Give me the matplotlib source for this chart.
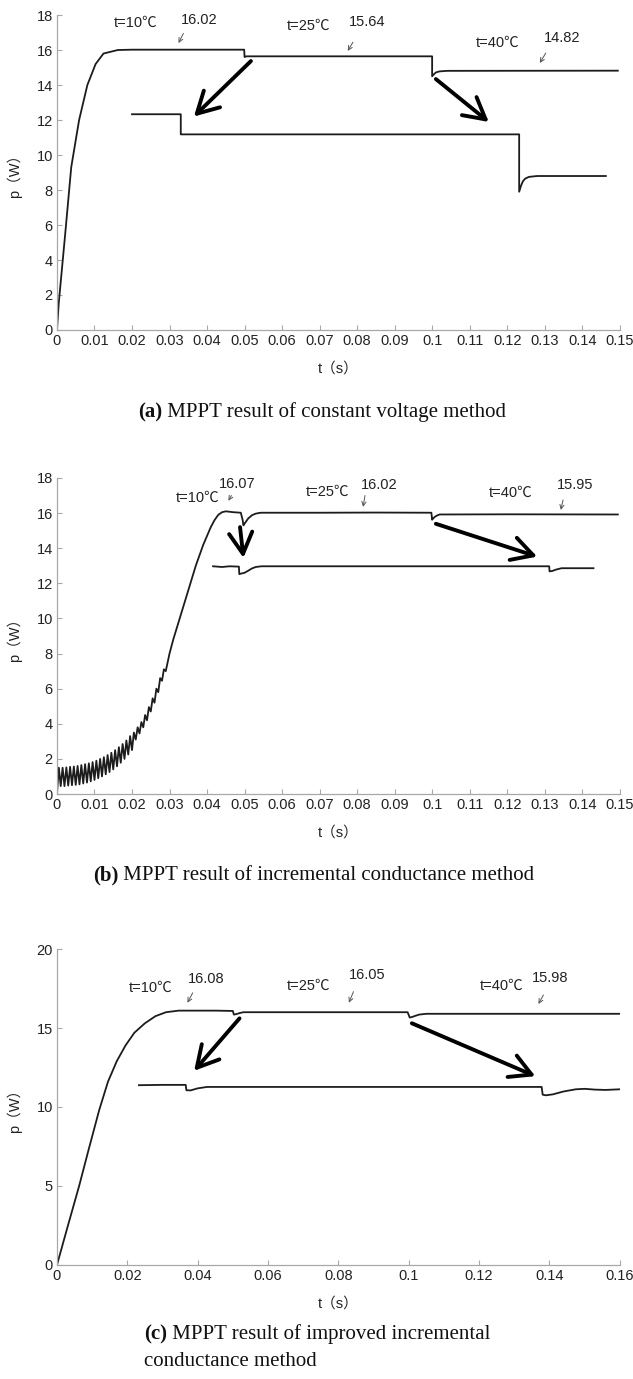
import matplotlib
matplotlib.use("Agg")
import matplotlib.pyplot as plt

# ---------------- data ----------------
# Panel (a): constant voltage method
a_up_t = [0, 0.0005, 0.0022, 0.0038, 0.0059, 0.0081, 0.0103, 0.0124, 0.0162, 0.02,
          0.0499, 0.0500, 0.0502, 0.0506, 0.1, 0.1, 0.1005, 0.101, 0.102, 0.104, 0.1495]
a_up_p = [0, 1.6, 5.5, 9.3, 12.0, 14.0, 15.2, 15.8, 16.0, 16.02,
          16.02, 15.60, 15.62, 15.64, 15.64, 14.50, 14.62, 14.72, 14.78, 14.81, 14.82]
a_lo_t = [0.02, 0.033, 0.033, 0.1232, 0.1232, 0.1237, 0.1242, 0.1248, 0.1258, 0.128, 0.1463]
a_lo_p = [12.33, 12.33, 11.18, 11.18, 7.90, 8.25, 8.50, 8.65, 8.75, 8.80, 8.80]

# Panel (b): incremental conductance method
b_up_t = [0.0, 0.0005, 0.001, 0.0015, 0.002, 0.0025, 0.003, 0.0035, 0.004, 0.0045,
          0.005, 0.0055, 0.006, 0.0065, 0.007, 0.0075, 0.008, 0.0085, 0.009, 0.0095,
          0.010, 0.0105, 0.011, 0.0115, 0.012, 0.0125, 0.013, 0.0135, 0.014, 0.0145,
          0.015, 0.0155, 0.016, 0.0165, 0.017, 0.0175, 0.018, 0.0185, 0.019, 0.0195,
          0.020, 0.0205, 0.021, 0.0215, 0.022, 0.0225, 0.023, 0.0235, 0.024, 0.0245,
          0.025, 0.0255, 0.026, 0.0265, 0.027, 0.0275, 0.028, 0.0285, 0.029, 0.030,
          0.031, 0.032, 0.033, 0.034, 0.035, 0.036, 0.037, 0.038, 0.039, 0.040,
          0.041, 0.042, 0.043, 0.044, 0.045, 0.047, 0.049, 0.0495, 0.0497, 0.050,
          0.051, 0.052, 0.053, 0.054, 0.0545, 0.07, 0.085, 0.0998, 0.1, 0.1003,
          0.1008, 0.1015, 0.102, 0.12, 0.1495]
b_up_p = [0.0, 1.50, 0.45, 1.50, 0.45, 1.52, 0.48, 1.55, 0.50, 1.57,
          0.52, 1.60, 0.55, 1.65, 0.60, 1.70, 0.65, 1.75, 0.72, 1.82,
          0.80, 1.90, 0.90, 2.00, 1.00, 2.10, 1.12, 2.22, 1.25, 2.35,
          1.40, 2.50, 1.58, 2.67, 1.78, 2.85, 2.00, 3.05, 2.25, 3.30,
          2.50, 3.50, 3.10, 3.80, 3.45, 4.10, 3.80, 4.50, 4.20, 4.95,
          4.70, 5.45, 5.20, 6.00, 5.80, 6.60, 6.45, 7.10, 7.00, 8.00,
          8.80, 9.50, 10.2, 10.9, 11.6, 12.3, 13.0, 13.6, 14.2, 14.7,
          15.2, 15.6, 15.9, 16.05, 16.10, 16.05, 16.02, 15.6, 15.30, 15.40,
          15.70, 15.88, 15.97, 16.01, 16.02, 16.02, 16.03, 16.02, 15.62, 15.70,
          15.80, 15.88, 15.92, 15.93, 15.92]
b_lo_t = [0.0416, 0.044, 0.046, 0.0485, 0.0486, 0.049, 0.050, 0.051, 0.052, 0.053,
          0.0545, 0.08, 0.1312, 0.1313, 0.132, 0.133, 0.1345, 0.143]
b_lo_p = [12.97, 12.93, 12.97, 12.95, 12.52, 12.55, 12.60, 12.72, 12.85, 12.93,
          12.97, 12.97, 12.97, 12.68, 12.70, 12.78, 12.86, 12.86]

# Panel (c): improved incremental conductance method
c_up_t = [0, 0.003, 0.0063, 0.009, 0.012, 0.0145, 0.017, 0.0195, 0.022, 0.025,
          0.028, 0.031, 0.0346, 0.045, 0.0500, 0.0503, 0.051, 0.052, 0.053,
          0.0997, 0.1003, 0.101, 0.102, 0.103, 0.105, 0.16]
c_up_p = [0, 2.4, 5.0, 7.3, 9.8, 11.6, 12.9, 13.9, 14.7, 15.3,
          15.75, 16.0, 16.1, 16.1, 16.08, 15.85, 15.88, 15.95, 16.0,
          16.0, 15.66, 15.70, 15.78, 15.85, 15.9, 15.9]
c_lo_t = [0.0233, 0.030, 0.0366, 0.0368, 0.038, 0.040, 0.0427, 0.08, 0.1378, 0.1381,
          0.139, 0.141, 0.144, 0.1475, 0.150, 0.153, 0.156, 0.16]
c_lo_p = [11.38, 11.40, 11.40, 11.06, 11.05, 11.18, 11.27, 11.27, 11.27, 10.78,
          10.74, 10.80, 10.98, 11.12, 11.15, 11.10, 11.08, 11.12]

# tick labels
ab_xticks = [0, 0.01, 0.02, 0.03, 0.04, 0.05, 0.06, 0.07, 0.08, 0.09, 0.1, 0.11, 0.12, 0.13, 0.14, 0.15]
ab_xlabels = ['0', '0.01', '0.02', '0.03', '0.04', '0.05', '0.06', '0.07', '0.08', '0.09',
              '0.1', '0.11', '0.12', '0.13', '0.14', '0.15']
ab_yticks = [0, 2, 4, 6, 8, 10, 12, 14, 16, 18]
c_xticks = [0, 0.02, 0.04, 0.06, 0.08, 0.1, 0.12, 0.14, 0.16]
c_xlabels = ['0', '0.02', '0.04', '0.06', '0.08', '0.1', '0.12', '0.14', '0.16']
c_yticks = [0, 5, 10, 15, 20]

# annotations: (text, t, p)
a_texts = [('t=10℃', 0.021, 17.55), ('16.02', 0.038, 17.7), ('t=25℃', 0.067, 17.4),
           ('15.64', 0.0827, 17.6), ('t=40℃', 0.1175, 16.4), ('14.82', 0.1347, 16.7)]
a_small = [((0.0337, 16.95), (0.0324, 16.40)), ((0.0789, 16.45), (0.0775, 15.95)),
           ((0.1303, 15.83), (0.1287, 15.26))]
a_big = [((0.0517, 15.37), (0.0365, 12.2)), ((0.101, 14.34), (0.1151, 11.89))]

b_texts = [('t=10℃', 0.0375, 16.86), ('16.07', 0.048, 17.68), ('t=25℃', 0.0722, 17.2),
           ('16.02', 0.086, 17.58), ('t=40℃', 0.1208, 17.16), ('15.95', 0.138, 17.58)]
b_small = [((0.0465, 17.0), (0.0457, 16.7)), ((0.0821, 17.0), (0.0816, 16.35)),
           ((0.1349, 16.75), (0.1343, 16.18))]
b_big = [((0.0488, 15.2), (0.0497, 13.45)), ((0.101, 15.39), (0.128, 13.52))]

c_texts = [('t=10℃', 0.0267, 17.52), ('16.08', 0.0423, 18.11), ('t=25℃', 0.0715, 17.67),
           ('16.05', 0.0882, 18.33), ('t=40℃', 0.1265, 17.67), ('15.98', 0.1403, 18.16)]
c_small = [((0.0386, 17.23), (0.0371, 16.6)), ((0.0843, 17.3), (0.0830, 16.6)),
           ((0.1383, 17.09), (0.1369, 16.52))]
c_big = [((0.0519, 15.61), (0.039, 12.29)), ((0.1009, 15.3), (0.136, 11.95))]

# ---------------- drawing ----------------
SANS = ['Liberation Sans', 'Noto Sans CJK SC', 'DejaVu Sans']
SERIF = 'Liberation Serif'
LINE_C = '#1c1c1c'
SPINE_C = '#a8a8a8'

fig = plt.figure(figsize=(6.33, 13.79), dpi=100)

def setup(ax, xlim, ylim, xticks, xlabels, yticks):
    ax.set_xlim(*xlim)
    ax.set_ylim(*ylim)
    for s in ('top', 'right'):
        ax.spines[s].set_visible(False)
    for s in ('left', 'bottom'):
        ax.spines[s].set_color(SPINE_C)
        ax.spines[s].set_linewidth(0.9)
    ax.set_xticks(xticks)
    ax.set_xticklabels(xlabels)
    ax.set_yticks(yticks)
    ax.tick_params(direction='in', length=3.5, width=0.8, color=SPINE_C,
                   labelsize=10.5, labelcolor='#222222', pad=3)
    for lab in ax.get_xticklabels() + ax.get_yticklabels():
        lab.set_family(SANS)
    ax.set_xlabel('t（s）', family=SANS, fontsize=10.5, color='#222222', labelpad=10)
    ax.set_ylabel('p（W）', family=SANS, fontsize=10.5, color='#222222')
    ax.yaxis.set_label_coords(-0.062, 0.5)

def annotate(ax, texts, small, big):
    for s, x, y in texts:
        ax.text(x, y, s, ha='center', va='center', fontsize=10.5, family=SANS, color='#222222')
    for st, en in small:
        ax.annotate('', xy=en, xytext=st,
                    arrowprops=dict(arrowstyle='->,head_length=0.5,head_width=0.25',
                                    color='#555555', lw=0.7, mutation_scale=6,
                                    shrinkA=0, shrinkB=0))
    for st, en in big:
        ax.annotate('', xy=en, xytext=st,
                    arrowprops=dict(arrowstyle='->,head_length=0.4,head_width=0.22',
                                    color='black', lw=2.8,
                                    mutation_scale=38, shrinkA=0, shrinkB=0))

# Panel (a)
axa = fig.add_axes([0.090, 0.7607, 0.889, 0.2284])
axa.plot(a_up_t, a_up_p, color=LINE_C, lw=1.3)
axa.plot(a_lo_t, a_lo_p, color=LINE_C, lw=1.3)
setup(axa, (0, 0.15), (0, 18), ab_xticks, ab_xlabels, ab_yticks)
annotate(axa, a_texts, a_small, a_big)

# Panel (b)
axb = fig.add_axes([0.090, 0.4242, 0.889, 0.2292])
axb.plot(b_up_t, b_up_p, color=LINE_C, lw=1.3)
axb.plot(b_lo_t, b_lo_p, color=LINE_C, lw=1.3)
setup(axb, (0, 0.15), (0, 18), ab_xticks, ab_xlabels, ab_yticks)
annotate(axb, b_texts, b_small, b_big)

# Panel (c)
axc = fig.add_axes([0.090, 0.0827, 0.889, 0.2291])
axc.plot(c_up_t, c_up_p, color=LINE_C, lw=1.3)
axc.plot(c_lo_t, c_lo_p, color=LINE_C, lw=1.3)
setup(axc, (0, 0.16), (0, 20), c_xticks, c_xlabels, c_yticks)
annotate(axc, c_texts, c_small, c_big)

# captions
def caption(x, y, tag, rest):
    t1 = fig.text(x, y, tag, fontsize=15, family=SERIF, fontweight='bold',
                  ha='left', va='center', color='#111111')
    axa.annotate(rest, xy=(1, 0), xycoords=t1, ha='left', va='bottom',
                 fontsize=15, family=SERIF, color='#111111', annotation_clip=False)
    return t1

caption(0.218, 1 - 412 / 1379, '(a)', ' MPPT result of constant voltage method')
caption(0.147, 1 - 875 / 1379, '(b)', ' MPPT result of incremental conductance method')
caption(0.2275, 1 - 1334 / 1379, '(c)', ' MPPT result of improved incremental')
fig.text(0.2275, 1 - 1362 / 1379, 'conductance method', fontsize=15, family=SERIF,
         ha='left', va='center', color='#111111')

fig.savefig('out.png', dpi=100)
